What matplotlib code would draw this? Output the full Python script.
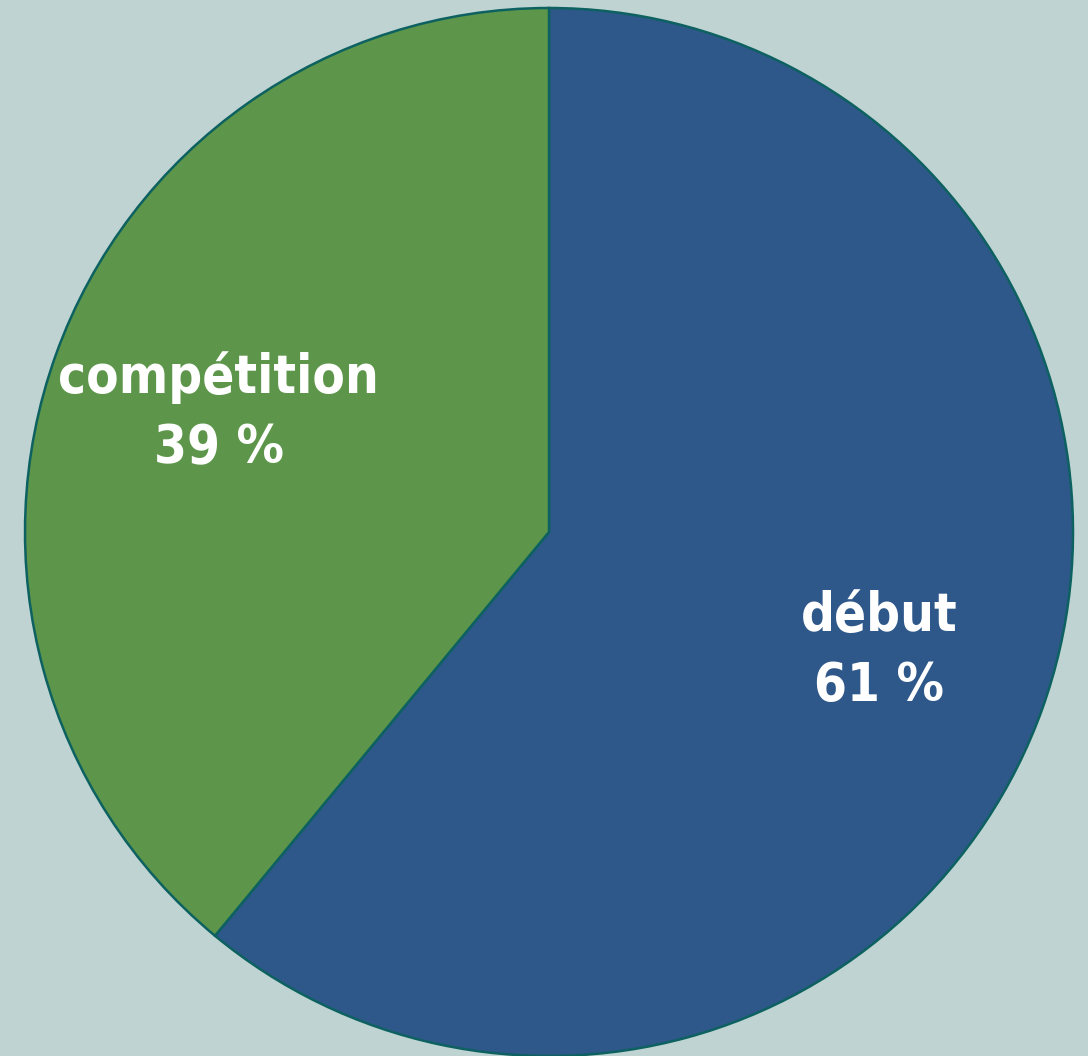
import matplotlib
matplotlib.use("Agg")
import matplotlib.pyplot as plt
import numpy as np

labels = ["début", "compétition"]
values = [61, 39]
colors = ["#2E5889", "#5D964A"]
bg = "#BED3D2"

fig = plt.figure(figsize=(10.88, 10.56), dpi=100, facecolor=bg)
ax = fig.add_axes([0, 0, 1, 1])
ax.set_facecolor(bg)

wedges, texts = ax.pie(values, colors=colors, startangle=90, counterclock=False,
                       radius=1.0,
                       wedgeprops=dict(edgecolor="#0D6160", linewidth=1.8))[:2]
for w, lab, v in zip(wedges, labels, values):
    ang = np.deg2rad((w.theta1 + w.theta2) / 2)
    ax.text(0.67 * np.cos(ang), 0.67 * np.sin(ang), "%s\n%d %%" % (lab, v),
            ha="center", va="center", color="white", fontsize=38,
            fontweight="bold", fontstretch="condensed",
            family=["DejaVu Sans"], linespacing=1.45)

ax.set_aspect("auto")
ax.set_xlim(-549 / 524, (1088 - 549) / 524)
ax.set_ylim(-1.0, 532 / 524)
ax.axis("off")

fig.savefig("out.png", dpi=100, facecolor=bg)
